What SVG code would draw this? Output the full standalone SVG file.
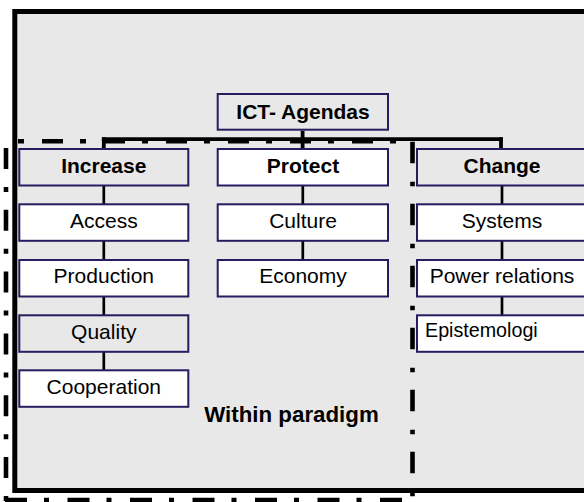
<svg xmlns="http://www.w3.org/2000/svg" width="584" height="502" viewBox="0 0 584 502">
<style>
.box{stroke:#2a1b60;stroke-width:2}
.g{fill:#e8e8e8}
.w{fill:#ffffff}
.t{font-family:"Liberation Sans",Arial,sans-serif;font-size:21px;fill:#000;text-anchor:middle}
.b{font-weight:bold}
.dd{fill:none;stroke:#000;stroke-width:4.6}
.cl{stroke:#000;stroke-width:2.7;fill:none}
.tc{stroke:#000;stroke-width:3.8;fill:none}
</style>
<rect x="0" y="0" width="584" height="502" fill="#ffffff"/>
<rect id="frame" x="14.8" y="11.5" width="600" height="479" fill="#e8e8e8" stroke="#000" stroke-width="5"/>
<g id="paradigm-boundary">
<line class="dd" x1="18" y1="141.3" x2="412.5" y2="141.3" stroke-dasharray="6 18 21 17"/>
<line class="dd" x1="6" y1="148" x2="6" y2="502" stroke-dasharray="21 18 5 17.8"/>
<line class="dd" x1="412.5" y1="141.7" x2="412.5" y2="502" stroke-dasharray="21.5 18.5 4.5 17.5"/>
<line class="dd" x1="5" y1="500" x2="416" y2="500" stroke-dasharray="22 17 5 18.5"/>
</g>
<g id="connectors">
<line class="tc" x1="101.9" y1="139.2" x2="502.9" y2="139.2"/>
<line class="tc" x1="103.8" y1="137.3" x2="103.8" y2="148"/>
<line class="tc" x1="302.6" y1="130.7" x2="302.6" y2="148"/>
<line class="tc" x1="501" y1="137.3" x2="501" y2="148"/>
<line class="cl" x1="103.8" y1="186" x2="103.8" y2="370"/>
<line class="cl" x1="302.8" y1="186" x2="302.8" y2="260"/>
<line class="cl" x1="502" y1="186" x2="502" y2="315"/>
</g>
<g id="ict-agendas"><rect class="box g" x="217.7" y="94" width="170.3" height="35.7"/><text class="t b" x="303" y="118.5">ICT- Agendas</text></g>
<g id="increase"><rect class="box g" x="19.3" y="149" width="169" height="36.5"/><text class="t b" x="103.8" y="172.7">Increase</text></g>
<g id="access"><rect class="box w" x="19.3" y="204.3" width="169" height="36.5"/><text class="t" x="103.8" y="227.8">Access</text></g>
<g id="production"><rect class="box w" x="19.3" y="260" width="169" height="36.5"/><text class="t" x="103.8" y="283.3">Production</text></g>
<g id="quality"><rect class="box g" x="19.3" y="315.3" width="169" height="36.5"/><text class="t" x="103.8" y="338.6">Quality</text></g>
<g id="cooperation"><rect class="box w" x="19.3" y="370.3" width="169" height="36.5"/><text class="t" x="103.8" y="393.8">Cooperation</text></g>
<g id="protect"><rect class="box w" x="217.7" y="149" width="170.3" height="36.5"/><text class="t b" x="303" y="172.7">Protect</text></g>
<g id="culture"><rect class="box w" x="217.7" y="204.3" width="170.3" height="36.5"/><text class="t" x="303" y="227.8">Culture</text></g>
<g id="economy"><rect class="box w" x="217.7" y="260" width="170.3" height="36.5"/><text class="t" x="303" y="283.3">Economy</text></g>
<g id="change"><rect class="box g" x="417" y="149" width="172" height="36.5"/><text class="t b" x="502" y="172.7">Change</text></g>
<g id="systems"><rect class="box w" x="417" y="204.3" width="172" height="36.5"/><text class="t" x="502" y="227.8">Systems</text></g>
<g id="power-relations"><rect class="box w" x="417" y="260" width="172" height="36.5"/><text class="t" x="502" y="283.3">Power relations</text></g>
<g id="epistemologi"><rect class="box w" x="417" y="315.3" width="172" height="36.5"/><text class="t" x="425" y="336.6" style="text-anchor:start;font-size:19.7px">Epistemologi</text></g>
<g id="within-paradigm"><text class="t b" x="291.5" y="421.6" style="font-size:22.3px">Within paradigm</text></g>
</svg>
